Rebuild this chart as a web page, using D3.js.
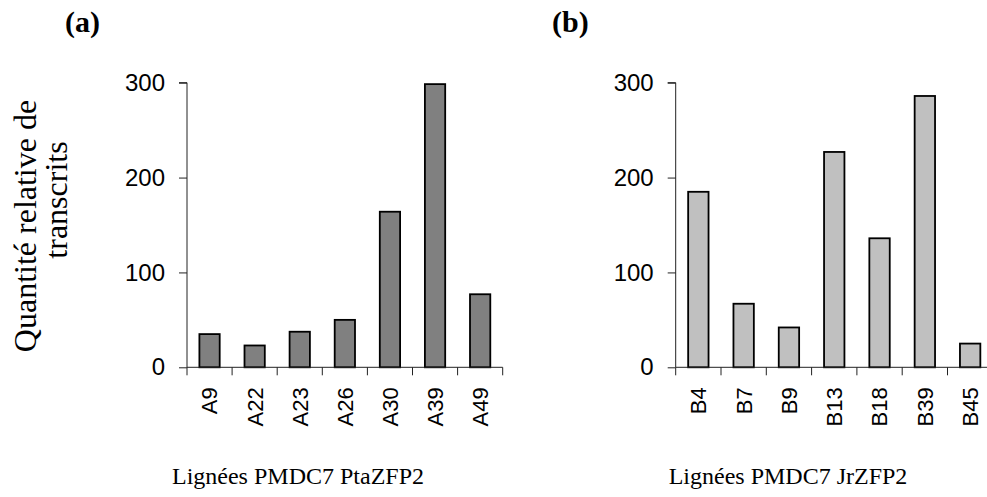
<!DOCTYPE html>
<html><head><meta charset="utf-8">
<script src="https://cdn.jsdelivr.net/npm/d3@7"></script>
<style>body{margin:0;background:#fff}svg{display:block}</style>
</head><body>
<script>
const catsA = ["A9","A22","A23","A26","A30","A39","A49"];
const valsA = [35, 23, 37.5, 50, 164, 298.5, 77];
const catsB = ["B4","B7","B9","B13","B18","B39","B45"];
const valsB = [185, 67, 42, 227, 136, 286, 25];
const yTicks = [0, 100, 200, 300];
const panelLabels = ["(a)", "(b)"];
const xTitles = ["Lignées PMDC7 PtaZFP2", "Lignées PMDC7 JrZFP2"];
const yTitle = ["Quantité relative de", "transcrits"];

const W = 987, H = 497;
const svg = d3.select("body").append("svg").attr("width", W).attr("height", H);

const y = d3.scaleLinear().domain([0, 300]).range([367.3, 82.7]);

function panel(cats, vals, x0, x1, fill, label, labelX, title, titleX) {
  const x = d3.scaleBand().domain(cats).range([x0, x1]).paddingInner(0.55).paddingOuter(0.275);
  const g = svg.append("g");
  g.selectAll("rect.bar").data(vals).enter().append("rect")
    .attr("x", (d, i) => x(cats[i]))
    .attr("y", d => y(d))
    .attr("width", x.bandwidth())
    .attr("height", d => y(0) - y(d))
    .attr("fill", fill).attr("stroke", "#000").attr("stroke-width", 1.8);
  const ya = g.append("g").attr("transform", `translate(${x0},0)`)
    .call(d3.axisLeft(y).tickValues(yTicks).tickSize(8).tickPadding(14).tickFormat(d3.format("d")));
  ya.select(".domain").attr("stroke", "#222").attr("d", `M-8,${y(300)}H0V${y(0)}`);
  ya.selectAll(".tick line").attr("stroke", "#222");
  ya.selectAll(".tick text").attr("font-family", "Arial, 'Liberation Sans', sans-serif").attr("font-size", 24).attr("fill", "#000");
  const xa = g.append("g").attr("transform", `translate(0,${y(0)})`)
    .call(d3.axisBottom(x).tickSize(0).tickPadding(0));
  xa.select(".domain").attr("stroke", "#222").attr("d", `M${x0},0H${x1}`);
  xa.selectAll(".tick text")
    .attr("font-family", "Arial, 'Liberation Sans', sans-serif").attr("font-size", 22).attr("fill", "#000")
    .attr("text-anchor", "end").attr("transform", "translate(0,20) rotate(-90)")
    .attr("x", 0).attr("y", 0).attr("dy", "0.36em");
  const step = x.step();
  g.selectAll("line.xt").data(d3.range(cats.length + 1)).enter().append("line")
    .attr("x1", i => x0 + i * step).attr("x2", i => x0 + i * step)
    .attr("y1", y(0)).attr("y2", y(0) + 8).attr("stroke", "#222");
  svg.append("text").attr("x", labelX).attr("y", 32).attr("font-family", "'Liberation Serif','Times New Roman',serif")
    .attr("font-weight", "bold").attr("font-size", 30).text(label);
  svg.append("text").attr("x", titleX).attr("y", 484).attr("text-anchor", "middle")
    .attr("font-family", "'Liberation Serif','Times New Roman',serif").attr("font-size", 24).text(title);
}

panel(catsA, valsA, 187, 502.7, "#808080", panelLabels[0], 65, xTitles[0], 298);
panel(catsB, valsB, 675.7, 992.8, "#c0c0c0", panelLabels[1], 552, xTitles[1], 788);

const yt = svg.append("g").attr("font-family", "'Liberation Serif','Times New Roman',serif").attr("font-size", 32);
yt.append("text").attr("transform", "translate(36,226) rotate(-90)").attr("text-anchor", "middle").text(yTitle[0]);
yt.append("text").attr("transform", "translate(67,200) rotate(-90)").attr("text-anchor", "middle").text(yTitle[1]);
</script>
</body></html>
